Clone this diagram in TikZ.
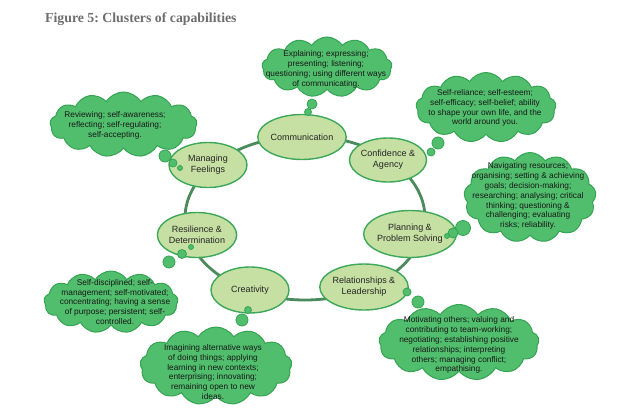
\documentclass[tikz,border=0pt]{standalone}
\usepackage{fontspec}
\setmainfont{Liberation Sans}
\newfontfamily\titlefont{Liberation Serif}
\usetikzlibrary{shapes.geometric,shapes.symbols}
\definecolor{ringcol}{HTML}{4B8A5B}
\definecolor{ellfill}{HTML}{C6DFA2}
\definecolor{elldraw}{HTML}{3DA85A}
\definecolor{cloudfill}{HTML}{50BE6C}
\definecolor{clouddraw}{HTML}{34A352}
\definecolor{titlecol}{HTML}{6E6E6E}
\frenchspacing
\begin{document}
\begin{tikzpicture}[x=1pt,y=-1pt,
  capnode/.style={ellipse, draw=elldraw, fill=ellfill, line width=1.4pt, inner sep=0pt,
    minimum width=78pt, minimum height=45pt, align=center,
    font=\fontsize{9}{10.8}\selectfont, text=black!85},
  cloudbg/.style={cloud, cloud puffs=13, cloud puff arc=115, cloud ignores aspect,
    draw=clouddraw, fill=cloudfill, line width=1pt, inner sep=0pt},
  cloudtxt/.style={align=center, inner sep=0pt, font=\fontsize{8.3}{9.9}\selectfont, text=black!90},
  bubble/.style={circle, draw=clouddraw, fill=cloudfill, line width=0.8pt, inner sep=0pt}]
\useasboundingbox[fill=white] (0,0) rectangle (640,418);

\node[anchor=base west, font=\titlefont\bfseries\fontsize{13.8}{16}\selectfont, text=titlecol, inner sep=0pt]
  (title) at (45,22) {Figure 5: Clusters of capabilities};

% ring
\coordinate (ringctr) at (305,218);
\draw[ringcol, line width=2.8pt] (ringctr) ellipse [x radius=120pt, y radius=82pt];

% capabilities
\node[capnode] (comm)  at (302,137) {Communication};
\node[capnode, minimum width=77pt, minimum height=44pt] (conf)  at (388,160) {Confidence \&\\Agency};
\node[capnode] (feel)  at (208,165) {Managing\\Feelings};
\node[capnode] (resil) at (197,235) {Resilience \&\\Determination};
\node[capnode, minimum width=77pt, minimum height=47pt] (plan)  at (410,234) {Planning \&\\Problem Solving};
\node[capnode, minimum height=46pt] (creat) at (250,290) {Creativity};
\node[capnode, minimum height=46pt] (relat) at (364,287) {Relationships \&\\Leadership};

% clouds
\node[cloudbg, minimum width=130pt, minimum height=60pt] (c1) at (327,67) {};
\node[cloudtxt] (t1) at (326,69.5) {Explaining; expressing;\\presenting; listening;\\questioning; using different ways\\of communicating.};

\node[cloudbg, minimum width=140pt, minimum height=70pt] (c2) at (486,107.5) {};
\node[cloudtxt] (t2) at (485,108) {Self-reliance; self-esteem;\\self-efficacy; self-belief; ability\\to shape your own life, and the\\world around you.};

\node[cloudbg, minimum width=147pt, minimum height=65pt] (c3) at (123.5,124.5) {};
\node[cloudtxt] (t3) at (115,125) {Reviewing; self-awareness;\\reflecting; self-regulating;\\self-accepting.};

\node[cloudbg, minimum width=132pt, minimum height=90pt] (c4) at (530,197.5) {};
\node[cloudtxt] (t4) at (528,196) {Navigating resources;\\organising; setting \& achieving\\goals; decision-making;\\researching; analysing; critical\\thinking; questioning \&\\challenging; evaluating\\risks; reliability.};

\node[cloudbg, minimum width=134pt, minimum height=62pt] (c5) at (111,302) {};
\node[cloudtxt] (t5) at (115,302) {Self-disciplined; self-\\management; self-motivated;\\concentrating; having a sense\\of purpose; persistent; self-\\controlled.};

\node[cloudbg, minimum width=160pt, minimum height=76pt] (c6) at (459,342.5) {};
\node[cloudtxt] (t6) at (459,345) {Motivating others; valuing and\\contributing to team-working;\\negotiating; establishing positive\\relationships; interpreting\\others; managing conflict;\\empathising.};

\node[cloudbg, minimum width=152pt, minimum height=78pt] (c7) at (216,366) {};
\node[cloudtxt] (t7) at (213,372) {Imagining alternative ways\\of doing things; applying\\learning in new contexts;\\enterprising; innovating;\\remaining open to new\\ideas.};

% thought bubbles
\node[bubble, minimum size=10pt] (b1a) at (312,104) {};
\node[bubble, minimum size=7pt]  (b1b) at (308,112) {};

\node[bubble, minimum size=12pt] (b2a) at (438,143) {};
\node[bubble, minimum size=8pt]  (b2b) at (431,152) {};

\node[bubble, minimum size=12pt] (b3a) at (165,156) {};
\node[bubble, minimum size=8pt]  (b3b) at (173,163) {};
\node[bubble, minimum size=5pt]  (b3c) at (180,168) {};

\node[bubble, minimum size=15pt] (b4a) at (463,228) {};
\node[bubble, minimum size=10pt] (b4b) at (453,233) {};
\node[bubble, minimum size=5pt]  (b4c) at (447,236) {};

\node[bubble, minimum size=12pt] (b5a) at (169,262) {};
\node[bubble, minimum size=9pt]  (b5b) at (182,254) {};
\node[bubble, minimum size=5pt]  (b5c) at (191,247) {};

\node[bubble, minimum size=8pt]  (b6a) at (407,292) {};
\node[bubble, minimum size=12pt] (b6b) at (418,302) {};

\node[bubble, minimum size=7pt]  (b7a) at (248,310) {};
\node[bubble, minimum size=12pt] (b7b) at (242,320) {};
\end{tikzpicture}
\end{document}
